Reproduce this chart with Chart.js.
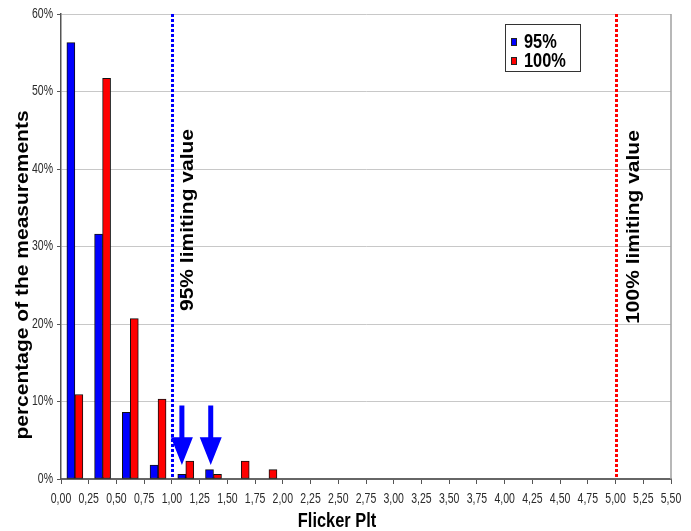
<!DOCTYPE html>
<html>
<head>
<meta charset="utf-8">
<script src="https://cdn.jsdelivr.net/npm/chart.js@4/dist/chart.umd.min.js"></script>
<style>
  html, body { margin: 0; padding: 0; background: #fff; }
  #wrap { width: 691px; height: 531px; }
</style>
</head>
<body>
<div id="wrap"><canvas id="canvas" width="691" height="531"></canvas></div>
<script>
// bin centres of the Flicker Plt classes (0,25 wide)
var binCentres95 = [0.125, 0.375, 0.625, 0.875, 1.125, 1.375];
var values95 = [56.3, 31.6, 8.6, 1.8, 0.6, 1.2];
var binCentres100 = [0.125, 0.375, 0.625, 0.875, 1.125, 1.375, 1.625, 1.875];
var values100 = [10.9, 51.7, 20.7, 10.3, 2.3, 0.6, 2.3, 1.2];
var seriesNames = ['95%', '100%'];
var limitValues = [1.0, 5.0];
var limitLabels = ['95% limiting value', '100% limiting value'];
var arrowTargets = [1.09, 1.35];
var xTitle = 'Flicker Plt';
var yTitle = 'percentage of the measurements';

var FONT = "'Liberation Sans', Arial, sans-serif";

function pts(xs, ys) {
    return xs.map(function (x, i) { return { x: x, y: ys[i] }; });
}

function squeezedText(c, text, x, y, sx, align) {
    c.save();
    c.translate(x, y);
    c.scale(sx, 1);
    c.textAlign = align;
    c.fillText(text, 0, 0);
    c.restore();
}

// annotations: limit lines, rotated labels, arrows, tick labels, titles, legend
var extras = {
    id: 'extras',
    afterDatasetsDraw: function (chart) {
        var c = chart.ctx;
        var xs = chart.scales.x, ys = chart.scales.y, area = chart.chartArea;
        var lineColors = ['#0000ff', '#ff0000'];

        c.save();
        // dotted limit lines
        limitValues.forEach(function (v, i) {
            var px = Math.round(xs.getPixelForValue(v)) + 0.5;
            c.strokeStyle = lineColors[i];
            c.lineWidth = 3;
            c.setLineDash([3, 2]);
            c.beginPath();
            c.moveTo(px, area.top);
            c.lineTo(px, area.bottom);
            c.stroke();
        });
        c.setLineDash([]);

        // rotated limit labels
        var labelX = [188, 634], labelY = [220, 227];
        limitLabels.forEach(function (t, i) {
            c.save();
            c.translate(labelX[i], labelY[i]);
            c.scale(0.9, 1);
            c.rotate(-Math.PI / 2);
            c.font = 'bold 21px ' + FONT;
            c.fillStyle = '#000';
            c.textAlign = 'center';
            c.textBaseline = 'middle';
            c.fillText(t, 0, 0);
            c.restore();
        });

        // blue arrows pointing at the 95% bars above 1,00
        c.fillStyle = '#0000ff';
        arrowTargets.forEach(function (v) {
            var px = xs.getPixelForValue(v);
            var top = ys.getPixelForValue(9.5);
            var neck = ys.getPixelForValue(5.4);
            var tip = ys.getPixelForValue(1.8);
            c.beginPath();
            c.moveTo(px - 2.5, top);
            c.lineTo(px + 2.5, top);
            c.lineTo(px + 2.5, neck);
            c.lineTo(px + 11, neck);
            c.lineTo(px, tip);
            c.lineTo(px - 11, neck);
            c.lineTo(px - 2.5, neck);
            c.closePath();
            c.fill();
        });

        // tick labels (narrow, as in the original)
        c.fillStyle = '#2a2a2a';
        c.font = '14px ' + FONT;
        c.textBaseline = 'middle';
        xs.ticks.forEach(function (t) {
            var px = xs.getPixelForValue(t.value);
            squeezedText(c, t.value.toFixed(2).replace('.', ','), px, 499, 0.75, 'center');
        });
        ys.ticks.forEach(function (t) {
            var py = ys.getPixelForValue(t.value);
            squeezedText(c, t.value + '%', 53, py, 0.75, 'right');
        });

        // axis titles
        c.fillStyle = '#000';
        c.font = 'bold 21px ' + FONT;
        c.textBaseline = 'middle';
        squeezedText(c, xTitle, 337, 521, 0.78, 'center');

        c.save();
        c.translate(23, 275);
        c.scale(0.9, 1);
        c.rotate(-Math.PI / 2);
        c.textAlign = 'center';
        c.fillText(yTitle, 0, 0);
        c.restore();

        // legend box
        c.fillStyle = '#fff';
        c.fillRect(505, 24, 76, 48);
        c.strokeStyle = '#333';
        c.lineWidth = 1;
        c.strokeRect(505.5, 24.5, 75, 47);
        var sw = ['#0000ff', '#ff0000'];
        seriesNames.forEach(function (n, i) {
            var y = 42 + i * 19;
            c.fillStyle = sw[i];
            c.fillRect(511, y - 4, 6, 8);
            c.strokeStyle = '#222';
            c.strokeRect(511.5, y - 3.5, 5, 7);
            c.fillStyle = '#000';
            c.font = 'bold 21px ' + FONT;
            c.textBaseline = 'middle';
            squeezedText(c, n, 524, y, 0.78, 'left');
        });

        // right border of the plot area
        c.strokeStyle = '#a0a0a0';
        c.lineWidth = 1.5;
        c.beginPath();
        c.moveTo(area.right, area.top);
        c.lineTo(area.right, area.bottom);
        c.stroke();
        c.restore();
    }
};

var ctx = document.getElementById('canvas');
var myChart = new Chart(ctx, {
    type: 'bar',
    data: {
        datasets: [{
            label: seriesNames[0],
            data: pts(binCentres95, values95),
            backgroundColor: '#0000ff',
            borderColor: '#111111',
            borderWidth: 1,
            borderSkipped: false,
            barThickness: 8
        }, {
            label: seriesNames[1],
            data: pts(binCentres100, values100),
            backgroundColor: '#ff0000',
            borderColor: '#111111',
            borderWidth: 1,
            borderSkipped: false,
            barThickness: 8
        }]
    },
    options: {
        responsive: false,
        animation: false,
        layout: { padding: { top: 14, right: 20, left: 0, bottom: 0 } },
        plugins: {
            legend: { display: false },
            tooltip: { enabled: false }
        },
        scales: {
            x: {
                type: 'linear',
                min: 0,
                max: 5.5,
                offset: false,
                afterFit: function (s) { s.height = 52; },
                grid: {
                    offset: false,
                    drawOnChartArea: false,
                    drawTicks: true,
                    tickLength: 5,
                    tickColor: '#555',
                    color: '#555'
                },
                border: { color: '#666', width: 2 },
                ticks: {
                    stepSize: 0.25,
                    autoSkip: false,
                    maxRotation: 0,
                    display: false
                }
            },
            y: {
                min: 0,
                max: 60,
                afterFit: function (s) { s.width = 61; },
                grid: {
                    color: '#c8c8c8',
                    lineWidth: 1,
                    tickLength: 4,
                    tickColor: '#555'
                },
                border: { color: '#555', width: 1.5 },
                ticks: {
                    stepSize: 10,
                    display: false
                }
            }
        }
    },
    plugins: [extras]
});
</script>
</body>
</html>
